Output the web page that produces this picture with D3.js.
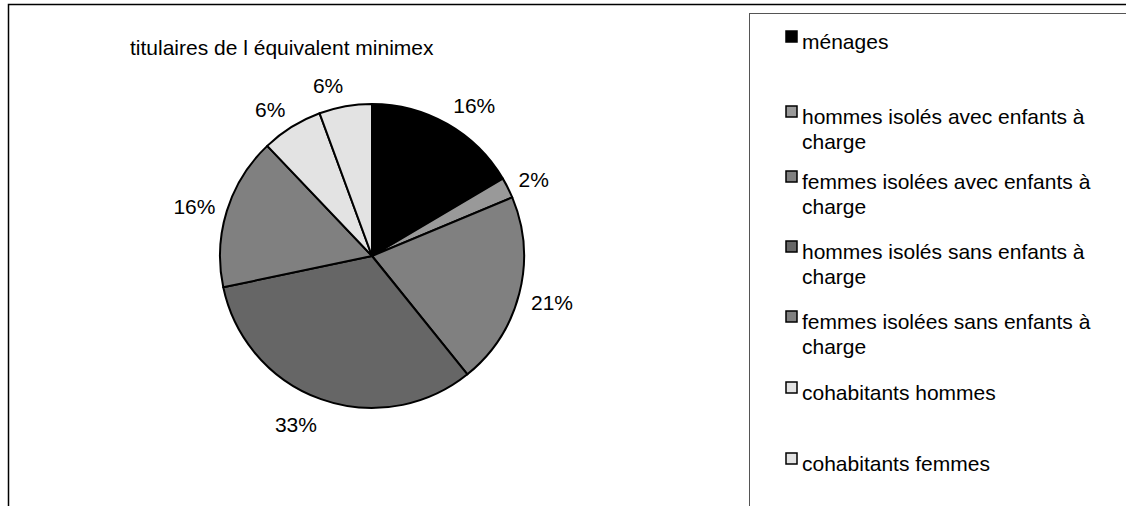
<!DOCTYPE html>
<html>
<head>
<meta charset="utf-8">
<script src="https://cdn.jsdelivr.net/npm/d3@7"></script>
<style>
  body { margin: 0; background: #fff; }
  text { font-family: "Liberation Sans", Arial, sans-serif; font-size: 21px; fill: #000; }
</style>
</head>
<body>
<script>
var categories = ["ménages", "hommes isolés avec enfants à charge", "femmes isolées avec enfants à charge",
  "hommes isolés sans enfants à charge", "femmes isolées sans enfants à charge",
  "cohabitants hommes", "cohabitants femmes"];
var values = [16.5, 2.2, 20.5, 32.5, 16.2, 6.5, 5.6];
var labels = ["16%", "2%", "21%", "33%", "16%", "6%", "6%"];
var colors = ["#000000", "#999999", "#808080", "#666666", "#808080", "#e3e3e3", "#e3e3e3"];
// legend text split in lines, as wrapped in the picture
var legendLines = [["ménages"], ["hommes isolés avec enfants à", "charge"], ["femmes isolées avec enfants à", "charge"],
  ["hommes isolés sans enfants à", "charge"], ["femmes isolées sans enfants à", "charge"],
  ["cohabitants hommes"], ["cohabitants femmes"]];
var legendY = [42, 117, 182, 252, 322, 393, 464];

var totalWidth = 1126, totalHeight = 506;
var cx = 372, cy = 256, radius = 152;

var svg = d3.select("body").append("svg")
    .attr("width", totalWidth)
    .attr("height", totalHeight);

// outer chart border
svg.append("rect")
    .attr("x", 8.5).attr("y", 4.5)
    .attr("width", totalWidth + 10).attr("height", totalHeight + 10)
    .attr("fill", "none").attr("stroke", "#000").attr("stroke-width", 1.5);

// legend box
svg.append("rect")
    .attr("x", 749.5).attr("y", 13.5)
    .attr("width", 400).attr("height", 520)
    .attr("fill", "#fff").attr("stroke", "#555").attr("stroke-width", 1);

svg.append("text")
    .attr("x", 130).attr("y", 55)
    .text("titulaires de l équivalent minimex");

var pie = d3.pie().sort(null).value(function(d){ return d; });
var arcs = pie(values);
var arc = d3.arc().innerRadius(0).outerRadius(radius);
var labelR = radius + 12;

var g = svg.append("g").attr("transform", "translate(" + cx + "," + cy + ")");

g.selectAll("path.slice")
    .data(arcs)
    .enter().append("path")
    .attr("class", "slice")
    .attr("d", arc)
    .attr("fill", function(d, i){ return colors[i]; })
    .attr("stroke", "#000")
    .attr("stroke-width", 2)
    .attr("stroke-linejoin", "round");

// labels sit outside the rim, anchored away from the pie like Excel does
g.selectAll("text.lbl")
    .data(arcs)
    .enter().append("text")
    .attr("class", "lbl")
    .attr("x", function(d){ var a = (d.startAngle + d.endAngle) / 2; return labelR * Math.sin(a); })
    .attr("y", function(d){ var a = (d.startAngle + d.endAngle) / 2; return -(labelR + 12) * Math.cos(a) + 3; })
    .attr("text-anchor", function(d){ var a = (d.startAngle + d.endAngle) / 2; return Math.sin(a) >= 0 ? "start" : "end"; })
    .attr("dy", "0.35em")
    .text(function(d, i){ return labels[i]; });

var legend = svg.append("g");
var items = legend.selectAll("g.item")
    .data(categories)
    .enter().append("g")
    .attr("class", "item")
    .attr("transform", function(d, i){ return "translate(786," + legendY[i] + ")"; });

items.append("rect")
    .attr("x", 0).attr("y", -11)
    .attr("width", 11).attr("height", 11)
    .attr("fill", function(d, i){ return colors[i]; })
    .attr("stroke", "#000").attr("stroke-width", 1.5);

items.each(function(d, i){
  var t = d3.select(this).append("text").attr("x", 16).attr("y", 7);
  legendLines[i].forEach(function(line, j){
    t.append("tspan").attr("x", 16).attr("dy", j === 0 ? 0 : 25).text(line);
  });
});
</script>
</body>
</html>
